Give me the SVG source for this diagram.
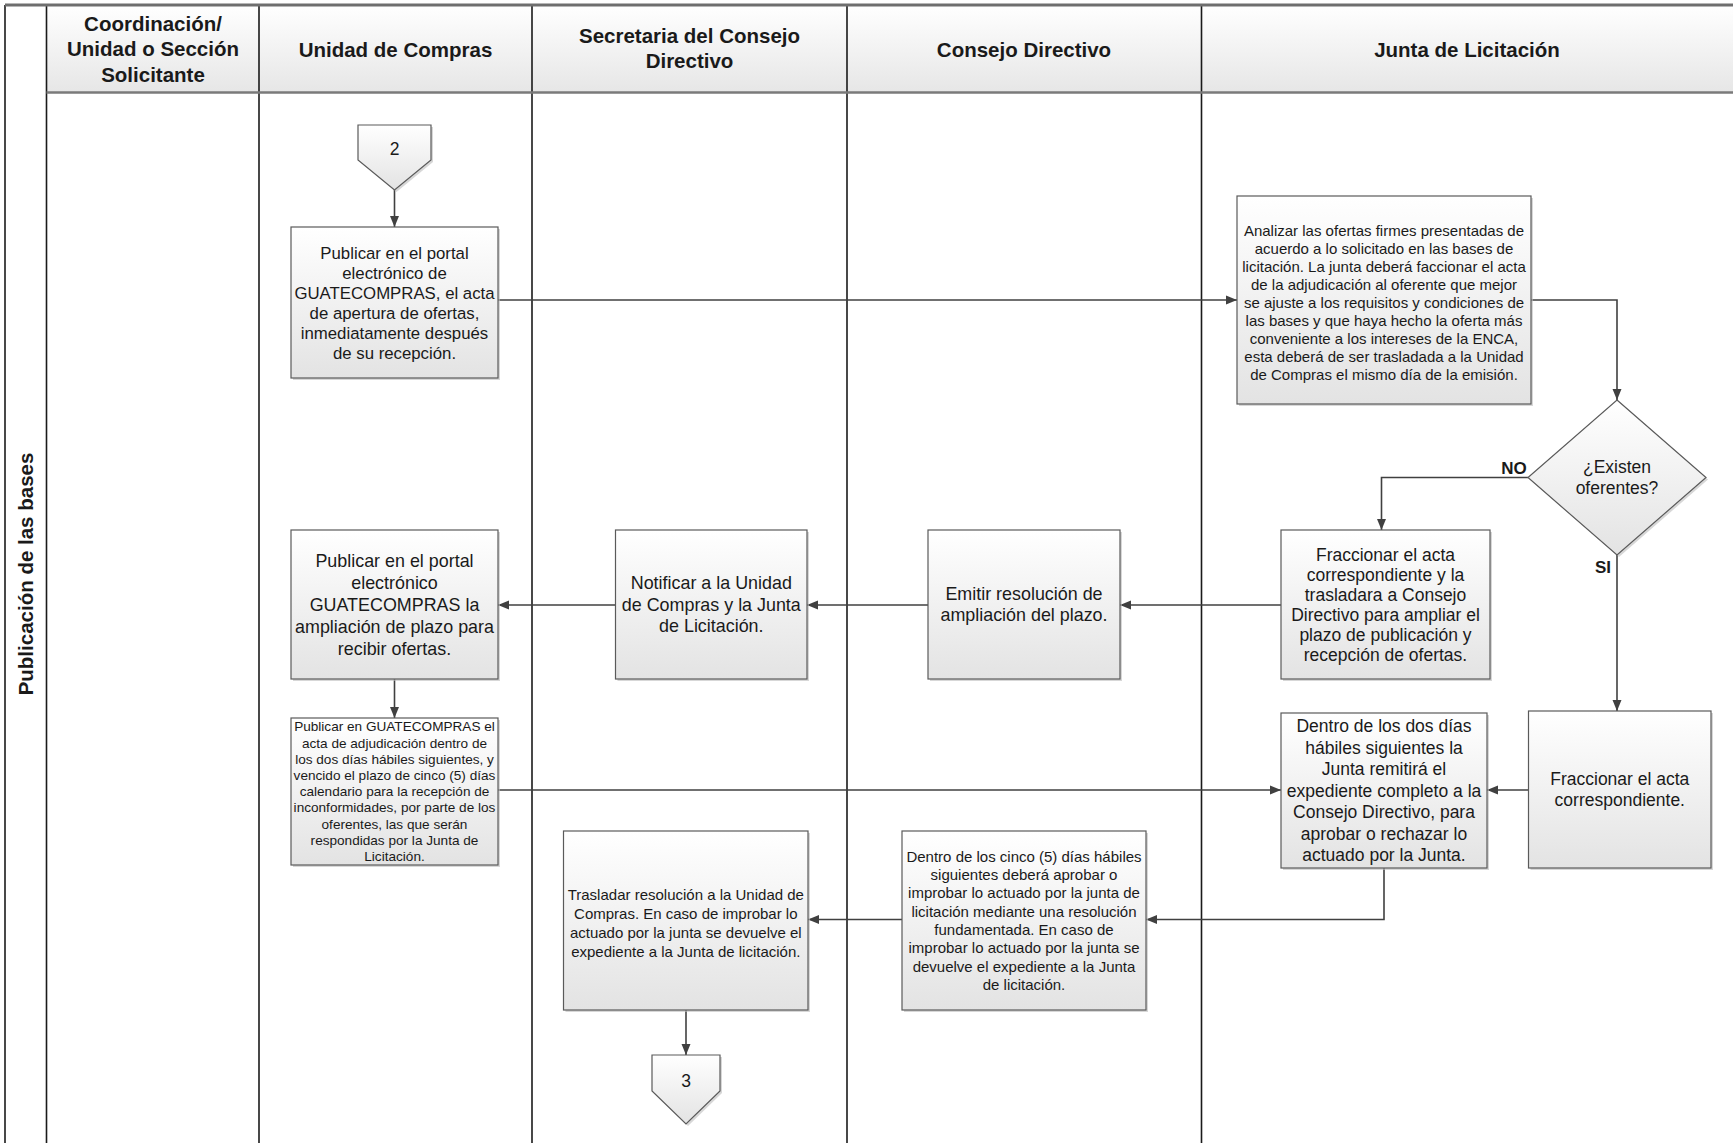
<svg xmlns="http://www.w3.org/2000/svg" width="1733" height="1143" viewBox="0 0 1733 1143">
<defs>
<linearGradient id="gBox" x1="0" y1="0" x2="0" y2="1">
<stop offset="0" stop-color="#ffffff"/>
<stop offset="1" stop-color="#e3e3e3"/>
</linearGradient>
<linearGradient id="gHead" x1="0" y1="0" x2="0" y2="1">
<stop offset="0" stop-color="#ffffff"/>
<stop offset="1" stop-color="#e6e6e6"/>
</linearGradient>
<marker id="arr" markerUnits="userSpaceOnUse" markerWidth="12" markerHeight="10" refX="11" refY="5" orient="auto">
<path d="M0,0.5 L11,5 L0,9.5 z" fill="#404040"/>
</marker>
</defs>
<style>
text{font-family:"Liberation Sans",Arial,sans-serif;fill:#1a1a1a;text-anchor:middle}
.hd{font-size:20.5px;font-weight:bold}
.lbl{font-size:17px;font-weight:bold}
.t{font-size:17.5px}
.t2{font-size:16.8px}
.t3{font-size:17.9px}
.s{font-size:15px}
.xs{font-size:13.6px}
.box{fill:url(#gBox);stroke:#5a5a5a;stroke-width:1.2}
.sh{fill:#bdbdbd;opacity:0.6}
.lane{stroke:#1a1a1a;stroke-width:1.6;fill:none}
.con{stroke:#404040;stroke-width:1.6;fill:none}
.arr{marker-end:url(#arr)}
</style>
<rect x="0" y="0" width="1733" height="1143" fill="#ffffff"/>
<g id="lanes">
<rect x="47" y="5" width="1686" height="88" fill="url(#gHead)"/>
<line class="lane" x1="5" y1="5" x2="5" y2="1143"/>
<line class="lane" x1="46.5" y1="5" x2="46.5" y2="1143"/>
<line class="lane" x1="259" y1="5" x2="259" y2="1143"/>
<line class="lane" x1="532" y1="5" x2="532" y2="1143"/>
<line class="lane" x1="847" y1="5" x2="847" y2="1143"/>
<line class="lane" x1="1201.5" y1="5" x2="1201.5" y2="1143"/>
<line x1="5" y1="5" x2="1733" y2="5" stroke="#6e6e6e" stroke-width="3"/>
<line x1="46.5" y1="92.5" x2="1733" y2="92.5" stroke="#7a7a7a" stroke-width="2.5"/>
<text class="hd" x="153" y="30.5">Coordinación/</text>
<text class="hd" x="153" y="56">Unidad o Sección</text>
<text class="hd" x="153" y="81.5">Solicitante</text>
<text class="hd" x="395.5" y="56.5">Unidad de Compras</text>
<text class="hd" x="689.5" y="42.5">Secretaria del Consejo</text>
<text class="hd" x="689.5" y="68">Directivo</text>
<text class="hd" x="1024" y="56.5">Consejo Directivo</text>
<text class="hd" x="1467" y="56.5">Junta de Licitación</text>
<text class="hd" transform="translate(33,574) rotate(-90)" x="0" y="0">Publicación de las bases</text>
</g>
<g id="connectors">
<line class="con arr" x1="394.5" y1="190" x2="394.5" y2="227"/>
<line class="con arr" x1="498" y1="300" x2="1237" y2="300"/>
<polyline class="con arr" points="1531,300 1617,300 1617,400"/>
<polyline class="con arr" points="1528,477.5 1381.5,477.5 1381.5,530"/>
<line class="con arr" x1="1617" y1="555" x2="1617" y2="711"/>
<line class="con arr" x1="1281" y1="605" x2="1120" y2="605"/>
<line class="con arr" x1="928" y1="605" x2="807" y2="605"/>
<line class="con arr" x1="615.5" y1="605" x2="498" y2="605"/>
<line class="con arr" x1="394.5" y1="679" x2="394.5" y2="718"/>
<line class="con arr" x1="498" y1="790" x2="1281" y2="790"/>
<line class="con arr" x1="1528.5" y1="790" x2="1487" y2="790"/>
<polyline class="con arr" points="1384,868 1384,919.5 1146,919.5"/>
<line class="con arr" x1="902" y1="919.5" x2="808" y2="919.5"/>
<line class="con arr" x1="686" y1="1010" x2="686" y2="1055"/>
<text class="lbl" x="1514" y="474">NO</text>
<text class="lbl" x="1603" y="573">SI</text>
</g>
<g id="n-offpage2">
<polygon class="sh" points="360,127 433,127 433,162 396.5,192 360,162"/>
<polygon class="box" points="358,125 431,125 431,160 394.5,190 358,160"/>
<text class="t" x="394.5" y="155">2</text>
</g>
<g id="n-publicar-apertura">
<rect class="sh" x="293" y="229" width="207" height="151"/>
<rect class="box" x="291" y="227" width="207" height="151"/>
<text class="t2" x="394.5" y="258.5">Publicar en el portal</text>
<text class="t2" x="394.5" y="278.5">electrónico de</text>
<text class="t2" x="394.5" y="298.5">GUATECOMPRAS, el acta</text>
<text class="t2" x="394.5" y="318.5">de apertura de ofertas,</text>
<text class="t2" x="394.5" y="338.5">inmediatamente después</text>
<text class="t2" x="394.5" y="358.5">de su recepción.</text>
</g>
<g id="n-analizar">
<rect class="sh" x="1239" y="198" width="294" height="208"/>
<rect class="box" x="1237" y="196" width="294" height="208"/>
<text class="s" x="1384" y="236">Analizar las ofertas firmes presentadas de</text>
<text class="s" x="1384" y="254">acuerdo a lo solicitado en las bases de</text>
<text class="s" x="1384" y="272">licitación. La junta deberá faccionar el acta</text>
<text class="s" x="1384" y="290">de la adjudicación al oferente que mejor</text>
<text class="s" x="1384" y="308">se ajuste a los requisitos y condiciones de</text>
<text class="s" x="1384" y="326">las bases y que haya hecho la oferta más</text>
<text class="s" x="1384" y="344">conveniente a los intereses de la ENCA,</text>
<text class="s" x="1384" y="362">esta deberá de ser trasladada a la Unidad</text>
<text class="s" x="1384" y="380">de Compras el mismo día de la emisión.</text>
</g>
<g id="n-existen">
<polygon class="sh" points="1619,402 1708,479.5 1619,557 1530,479.5"/>
<polygon class="box" points="1617,400 1706,477.5 1617,555 1528,477.5"/>
<text class="t" x="1617" y="473">¿Existen</text>
<text class="t" x="1617" y="494">oferentes?</text>
</g>
<g id="n-fraccionar-trasladar">
<rect class="sh" x="1283" y="532" width="209" height="149"/>
<rect class="box" x="1281" y="530" width="209" height="149"/>
<text class="t" x="1385.5" y="560.5">Fraccionar el acta</text>
<text class="t" x="1385.5" y="580.5">correspondiente y la</text>
<text class="t" x="1385.5" y="600.5">trasladara a Consejo</text>
<text class="t" x="1385.5" y="620.5">Directivo para ampliar el</text>
<text class="t" x="1385.5" y="640.5">plazo de publicación y</text>
<text class="t" x="1385.5" y="660.5">recepción de ofertas.</text>
</g>
<g id="n-emitir">
<rect class="sh" x="930" y="532" width="192" height="149"/>
<rect class="box" x="928" y="530" width="192" height="149"/>
<text class="t3" x="1024" y="600">Emitir resolución de</text>
<text class="t3" x="1024" y="621">ampliación del plazo.</text>
</g>
<g id="n-notificar">
<rect class="sh" x="617.5" y="532" width="191.5" height="149"/>
<rect class="box" x="615.5" y="530" width="191.5" height="149"/>
<text class="t3" x="711.3" y="589">Notificar a la Unidad</text>
<text class="t3" x="711.3" y="610.5">de Compras y la Junta</text>
<text class="t3" x="711.3" y="632">de Licitación.</text>
</g>
<g id="n-publicar-ampliacion">
<rect class="sh" x="293" y="532" width="207" height="149"/>
<rect class="box" x="291" y="530" width="207" height="149"/>
<text class="t3" x="394.5" y="566.5">Publicar en el portal</text>
<text class="t3" x="394.5" y="588.5">electrónico</text>
<text class="t3" x="394.5" y="610.5">GUATECOMPRAS la</text>
<text class="t3" x="394.5" y="632.5">ampliación de plazo para</text>
<text class="t3" x="394.5" y="654.5">recibir ofertas.</text>
</g>
<g id="n-publicar-adjudicacion">
<rect class="sh" x="293" y="720" width="207" height="147"/>
<rect class="box" x="291" y="718" width="207" height="147"/>
<text class="xs" x="394.5" y="731.4">Publicar en GUATECOMPRAS el</text>
<text class="xs" x="394.5" y="747.6">acta de adjudicación dentro de</text>
<text class="xs" x="394.5" y="763.8">los dos días hábiles siguientes, y</text>
<text class="xs" x="394.5" y="780">vencido el plazo de cinco (5) días</text>
<text class="xs" x="394.5" y="796.2">calendario para la recepción de</text>
<text class="xs" x="394.5" y="812.4">inconformidades, por parte de los</text>
<text class="xs" x="394.5" y="828.6">oferentes, las que serán</text>
<text class="xs" x="394.5" y="844.8">respondidas por la Junta de</text>
<text class="xs" x="394.5" y="861">Licitación.</text>
</g>
<g id="n-dentro-dos-dias">
<rect class="sh" x="1283" y="715" width="206" height="155"/>
<rect class="box" x="1281" y="713" width="206" height="155"/>
<text class="t" x="1384" y="732">Dentro de los dos días</text>
<text class="t" x="1384" y="753.5">hábiles siguientes la</text>
<text class="t" x="1384" y="775">Junta remitirá el</text>
<text class="t" x="1384" y="796.5">expediente completo a la</text>
<text class="t" x="1384" y="818">Consejo Directivo, para</text>
<text class="t" x="1384" y="839.5">aprobar o rechazar lo</text>
<text class="t" x="1384" y="861">actuado por la Junta.</text>
</g>
<g id="n-fraccionar">
<rect class="sh" x="1530.5" y="713" width="182.5" height="157"/>
<rect class="box" x="1528.5" y="711" width="182.5" height="157"/>
<text class="t" x="1619.8" y="784.5">Fraccionar el acta</text>
<text class="t" x="1619.8" y="806">correspondiente.</text>
</g>
<g id="n-dentro-cinco-dias">
<rect class="sh" x="904" y="833" width="244" height="179"/>
<rect class="box" x="902" y="831" width="244" height="179"/>
<text class="s" x="1024" y="861.7">Dentro de los cinco (5) días hábiles</text>
<text class="s" x="1024" y="880">siguientes deberá aprobar o</text>
<text class="s" x="1024" y="898.3">improbar lo actuado por la junta de</text>
<text class="s" x="1024" y="916.6">licitación mediante una resolución</text>
<text class="s" x="1024" y="934.9">fundamentada. En caso de</text>
<text class="s" x="1024" y="953.2">improbar lo actuado por la junta se</text>
<text class="s" x="1024" y="971.5">devuelve el expediente a la Junta</text>
<text class="s" x="1024" y="989.8">de licitación.</text>
</g>
<g id="n-trasladar">
<rect class="sh" x="565.5" y="833" width="244.5" height="179"/>
<rect class="box" x="563.5" y="831" width="244.5" height="179"/>
<text class="s" x="685.8" y="900.4">Trasladar resolución a la Unidad de</text>
<text class="s" x="685.8" y="919.2">Compras. En caso de improbar lo</text>
<text class="s" x="685.8" y="938">actuado por la junta se devuelve el</text>
<text class="s" x="685.8" y="956.8">expediente a la Junta de licitación.</text>
</g>
<g id="n-offpage3">
<polygon class="sh" points="654,1057 722,1057 722,1093 688,1126 654,1093"/>
<polygon class="box" points="652,1055 720,1055 720,1091 686,1124 652,1091"/>
<text class="t" x="686" y="1087">3</text>
</g>
</svg>
